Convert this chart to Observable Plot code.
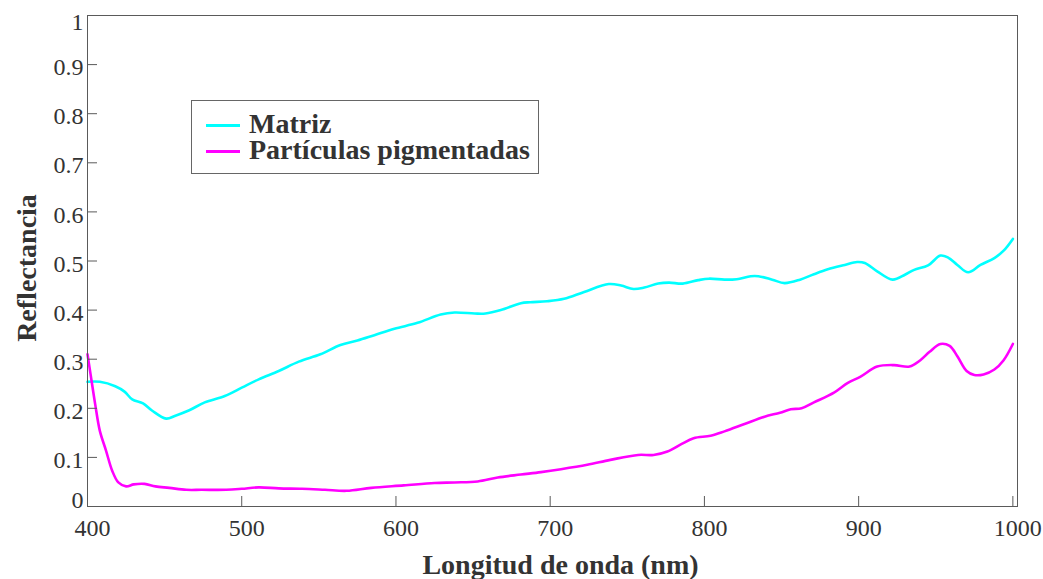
<!DOCTYPE html>
<html>
<head>
<meta charset="utf-8">
<script src="https://cdn.jsdelivr.net/npm/d3@7"></script>
<script src="https://cdn.jsdelivr.net/npm/@observablehq/plot@0.6"></script>
<style>
  html, body { margin: 0; padding: 0; background: #fff; }
  #wrap { position: relative; width: 1043px; height: 579px; overflow: hidden; }
  .legend { position: absolute; left: 191px; top: 100px; width: 346px; height: 72px;
    border: 1px solid #666; background: #fff; font-family: "Liberation Serif", "Times New Roman", serif;
    font-weight: bold; font-size: 28px; line-height: 28px; color: #333; }
  .legend .sw { position: absolute; left: 14px; width: 34px; height: 2.5px; }
  .legend .lb { position: absolute; left: 57px; white-space: nowrap; }
</style>
</head>
<body>
<div id="wrap"></div>
<script>
// ---- data ----
const matrizNm = [400,408,418,424,429,436,442,451,457,466,476,489,500,511,524,537,551,564,575,586,599,614,629,638,651,658,668,681,687,698,709,722,738,746,754,761,770,777,786,796,803,813,821,830,835,844,852,862,871,880,891,899,904,912,922,930,936,945,953,958,964,971,979,988,994,1000];
const matrizR  = [0.254,0.254,0.245,0.234,0.218,0.210,0.195,0.179,0.185,0.196,0.212,0.225,0.242,0.259,0.276,0.295,0.310,0.329,0.338,0.349,0.362,0.374,0.391,0.395,0.393,0.393,0.400,0.414,0.416,0.418,0.423,0.437,0.453,0.450,0.443,0.446,0.454,0.456,0.454,0.461,0.464,0.462,0.463,0.469,0.469,0.462,0.455,0.462,0.473,0.483,0.492,0.498,0.496,0.479,0.462,0.472,0.482,0.491,0.511,0.507,0.492,0.477,0.492,0.506,0.521,0.545];

const partNm = [400,402,405,408,412,416,420,425,430,437,444,453,464,474,490,500,511,524,539,554,568,584,605,625,638,653,666,681,694,707,724,739,757,767,776,785,793,804,813,826,839,849,856,863,871,884,893,901,912,923,933,940,946,953,959,964,970,975,981,988,994,1000];
const partR  = [0.310,0.269,0.208,0.154,0.114,0.073,0.049,0.041,0.045,0.046,0.041,0.038,0.034,0.034,0.034,0.036,0.039,0.037,0.036,0.034,0.032,0.038,0.043,0.048,0.049,0.051,0.059,0.065,0.070,0.076,0.085,0.095,0.105,0.105,0.112,0.127,0.139,0.144,0.153,0.168,0.183,0.191,0.198,0.200,0.212,0.232,0.252,0.264,0.285,0.288,0.285,0.298,0.315,0.331,0.327,0.306,0.276,0.268,0.269,0.279,0.298,0.331];

const seriesNames  = ["Matriz", "Partículas pigmentadas"];
const seriesColors = ["#00ffff", "#ff00ff"];

const xTicks = [400, 500, 600, 700, 800, 900, 1000];
const yTicks = [0, 0.1, 0.2, 0.3, 0.4, 0.5, 0.6, 0.7, 0.8, 0.9, 1];
const yTickLabels = ["0", "0.1", "0.2", "0.3", "0.4", "0.5", "0.6", "0.7", "0.8", "0.9", "1"];
const xLabel = "Longitud de onda (nm)";
const yLabel = "Reflectancia";

// ---- tables ----
const matriz = matrizNm.map((nm, i) => ({nm, r: matrizR[i]}));
const part = partNm.map((nm, i) => ({nm, r: partR[i]}));

const axisColor = "#5a5a5a";
const yFmt = d => yTickLabels[yTicks.indexOf(d)];

const chart = Plot.plot({
  width: 1043,
  height: 579,
  marginLeft: 87,
  marginRight: 26,
  marginTop: 15,
  marginBottom: 73,
  style: {fontFamily: '"Liberation Serif", "Times New Roman", serif', fontSize: "24px", color: "#333", background: "#fff", overflow: "visible"},
  x: {domain: [400, 1003]},
  y: {domain: [0, 1]},
  marks: [
    Plot.line(matriz, {x: "nm", y: "r", stroke: seriesColors[0], strokeWidth: 2.6, curve: "catmull-rom"}),
    Plot.line(part, {x: "nm", y: "r", stroke: seriesColors[1], strokeWidth: 2.6, curve: "catmull-rom"}),
    Plot.frame({stroke: axisColor, strokeWidth: 1}),
    // inward tick marks
    Plot.axisX(xTicks, {anchor: "bottom", tickSize: 10, dy: -10, fill: "none", label: null, stroke: axisColor}),
    Plot.axisY(yTicks, {anchor: "left", tickSize: 10, dx: 10, fill: "none", label: null, stroke: axisColor}),
    // tick labels
    Plot.axisX(xTicks, {anchor: "bottom", tickSize: 0, tickPadding: 12, dx: 5, tickFormat: d => String(d), label: null}),
    Plot.axisY(yTicks.slice(1, 10), {anchor: "left", tickSize: 0, tickPadding: 4, dy: 3, tickFormat: yFmt, label: null}),
    Plot.axisY(yTicks.slice(0, 1), {anchor: "left", tickSize: 0, tickPadding: 4, dy: -6, tickFormat: yFmt, label: null}),
    Plot.axisY(yTicks.slice(10), {anchor: "left", tickSize: 0, tickPadding: 4, dy: 7, tickFormat: yFmt, label: null}),
    // axis titles
    Plot.text([xLabel], {text: d => d, frameAnchor: "bottom", textAnchor: "middle", lineAnchor: "bottom", dy: 67.5, dx: 8,
      fontWeight: "bold", fontSize: 28, fill: "#333"}),
    Plot.text([yLabel], {text: d => d, frameAnchor: "left", textAnchor: "middle", lineAnchor: "bottom", rotate: -90, dx: -52, dy: 7,
      fontWeight: "bold", fontSize: 28, fill: "#333"})
  ]
});

const wrap = document.getElementById("wrap");
wrap.appendChild(chart);

// legend overlay inside the plot area
const legend = document.createElement("div");
legend.className = "legend";
const rowTops = [23, 49];
const labelTops = [8.5, 34.5];
seriesNames.forEach((name, i) => {
  const sw = document.createElement("div");
  sw.className = "sw";
  sw.style.top = rowTops[i] + "px";
  sw.style.background = seriesColors[i];
  legend.appendChild(sw);
  const lb = document.createElement("div");
  lb.className = "lb";
  lb.style.top = labelTops[i] + "px";
  lb.textContent = name;
  legend.appendChild(lb);
});
wrap.appendChild(legend);
</script>
</body>
</html>
